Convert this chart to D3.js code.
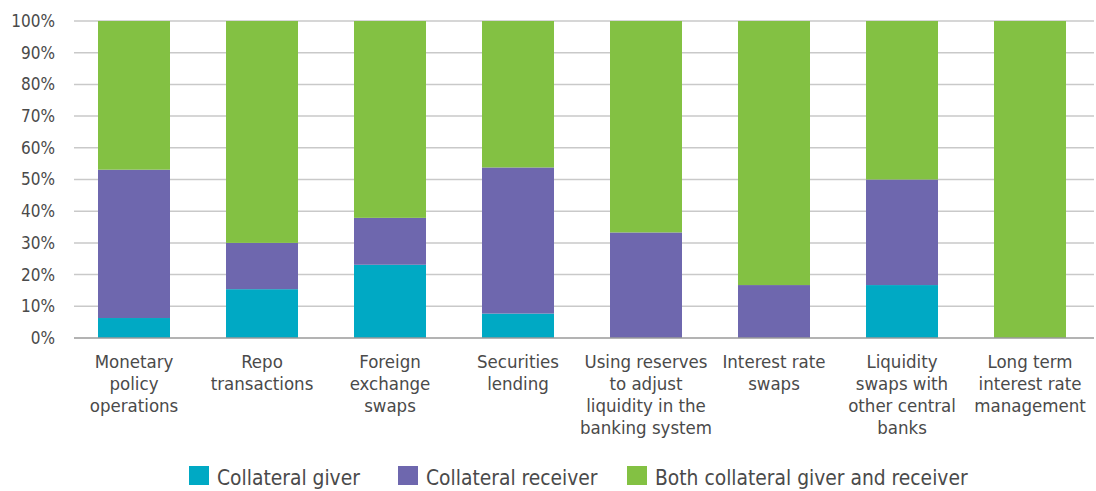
<!DOCTYPE html>
<html><head><meta charset="utf-8">
<script src="https://cdn.jsdelivr.net/npm/d3@7"></script>
<style>
body{margin:0;background:#fff;}
svg text{font-family:"DejaVu Sans Condensed","Roboto",sans-serif;fill:#4a4a4a;}
</style></head><body>
<svg id="c" width="1096" height="491"></svg>
<script>
const categories = [
  ["Monetary","policy","operations"],
  ["Repo","transactions"],
  ["Foreign","exchange","swaps"],
  ["Securities","lending"],
  ["Using reserves","to adjust","liquidity in the","banking system"],
  ["Interest rate","swaps"],
  ["Liquidity","swaps with","other central","banks"],
  ["Long term","interest rate","management"]
];
const seriesNames = ["Collateral giver","Collateral receiver","Both collateral giver and receiver"];
const giver    = [6.3, 15.4, 23.1, 7.7, 0, 0, 16.7, 0];
const receiver = [46.8, 14.6, 14.8, 46.1, 33.3, 16.7, 33.3, 0];
const both     = [46.9, 70.0, 62.1, 46.2, 66.7, 83.3, 50.0, 100];
const yTicks = [0,10,20,30,40,50,60,70,80,90,100];
const colors = ["#00a9c4","#6e67ae","#83c143"];

const svg = d3.select("#c");
const x = d3.scaleBand().domain(d3.range(categories.length)).range([70,1094]).paddingInner(0.4375).paddingOuter(0.21875);
const y = d3.scaleLinear().domain([0,100]).range([338,21]);

// gridlines
svg.append("g").selectAll("line").data(yTicks.filter(d=>d>0)).join("line")
  .attr("x1",74).attr("x2",1094).attr("y1",d=>y(d)).attr("y2",d=>y(d))
  .attr("stroke","#c9c9c9").attr("stroke-width",1.5);

// y axis labels
const yAxis = d3.axisLeft(y).tickValues(yTicks).tickFormat(d=>d+"%").tickSize(0).tickPadding(0);
const ga = svg.append("g").attr("transform","translate(55,0)").call(yAxis);
ga.select(".domain").remove();
ga.selectAll("text").attr("font-size",17).style("fill","#4a4a4a").style("font-family",null);

// stacked bars
const rows = categories.map((c,i)=>({i, giver:giver[i], receiver:receiver[i], both:both[i]}));
const stack = d3.stack().keys(["giver","receiver","both"])(rows);
svg.append("g").selectAll("g").data(stack).join("g").attr("fill",(d,k)=>colors[k])
  .selectAll("rect").data(d=>d).join("rect")
  .attr("x",d=>x(d.data.i)).attr("width",x.bandwidth())
  .attr("y",d=>y(d[1])).attr("height",d=>y(d[0])-y(d[1]));

// baseline
svg.append("line").attr("x1",74).attr("x2",1094).attr("y1",y(0)).attr("y2",y(0))
  .attr("stroke","#9a9a9a").attr("stroke-width",1.5);

// x labels
const xl = svg.append("g");
categories.forEach((lines,i)=>{
  const t = xl.append("text").attr("text-anchor","middle").attr("font-size",18.5)
    .attr("x",x(i)+x.bandwidth()/2).attr("y",368);
  lines.forEach((l,j)=>t.append("tspan").attr("x",x(i)+x.bandwidth()/2).attr("dy",j?22:0).text(l));
});

// legend
const legX = [189,398,627];
const lg = svg.append("g");
seriesNames.forEach((n,k)=>{
  lg.append("rect").attr("x",legX[k]).attr("y",466).attr("width",20).attr("height",19).attr("fill",colors[k]);
  lg.append("text").attr("x",legX[k]+28).attr("y",485).attr("font-size",20.8).text(n);
});
</script></body></html>
